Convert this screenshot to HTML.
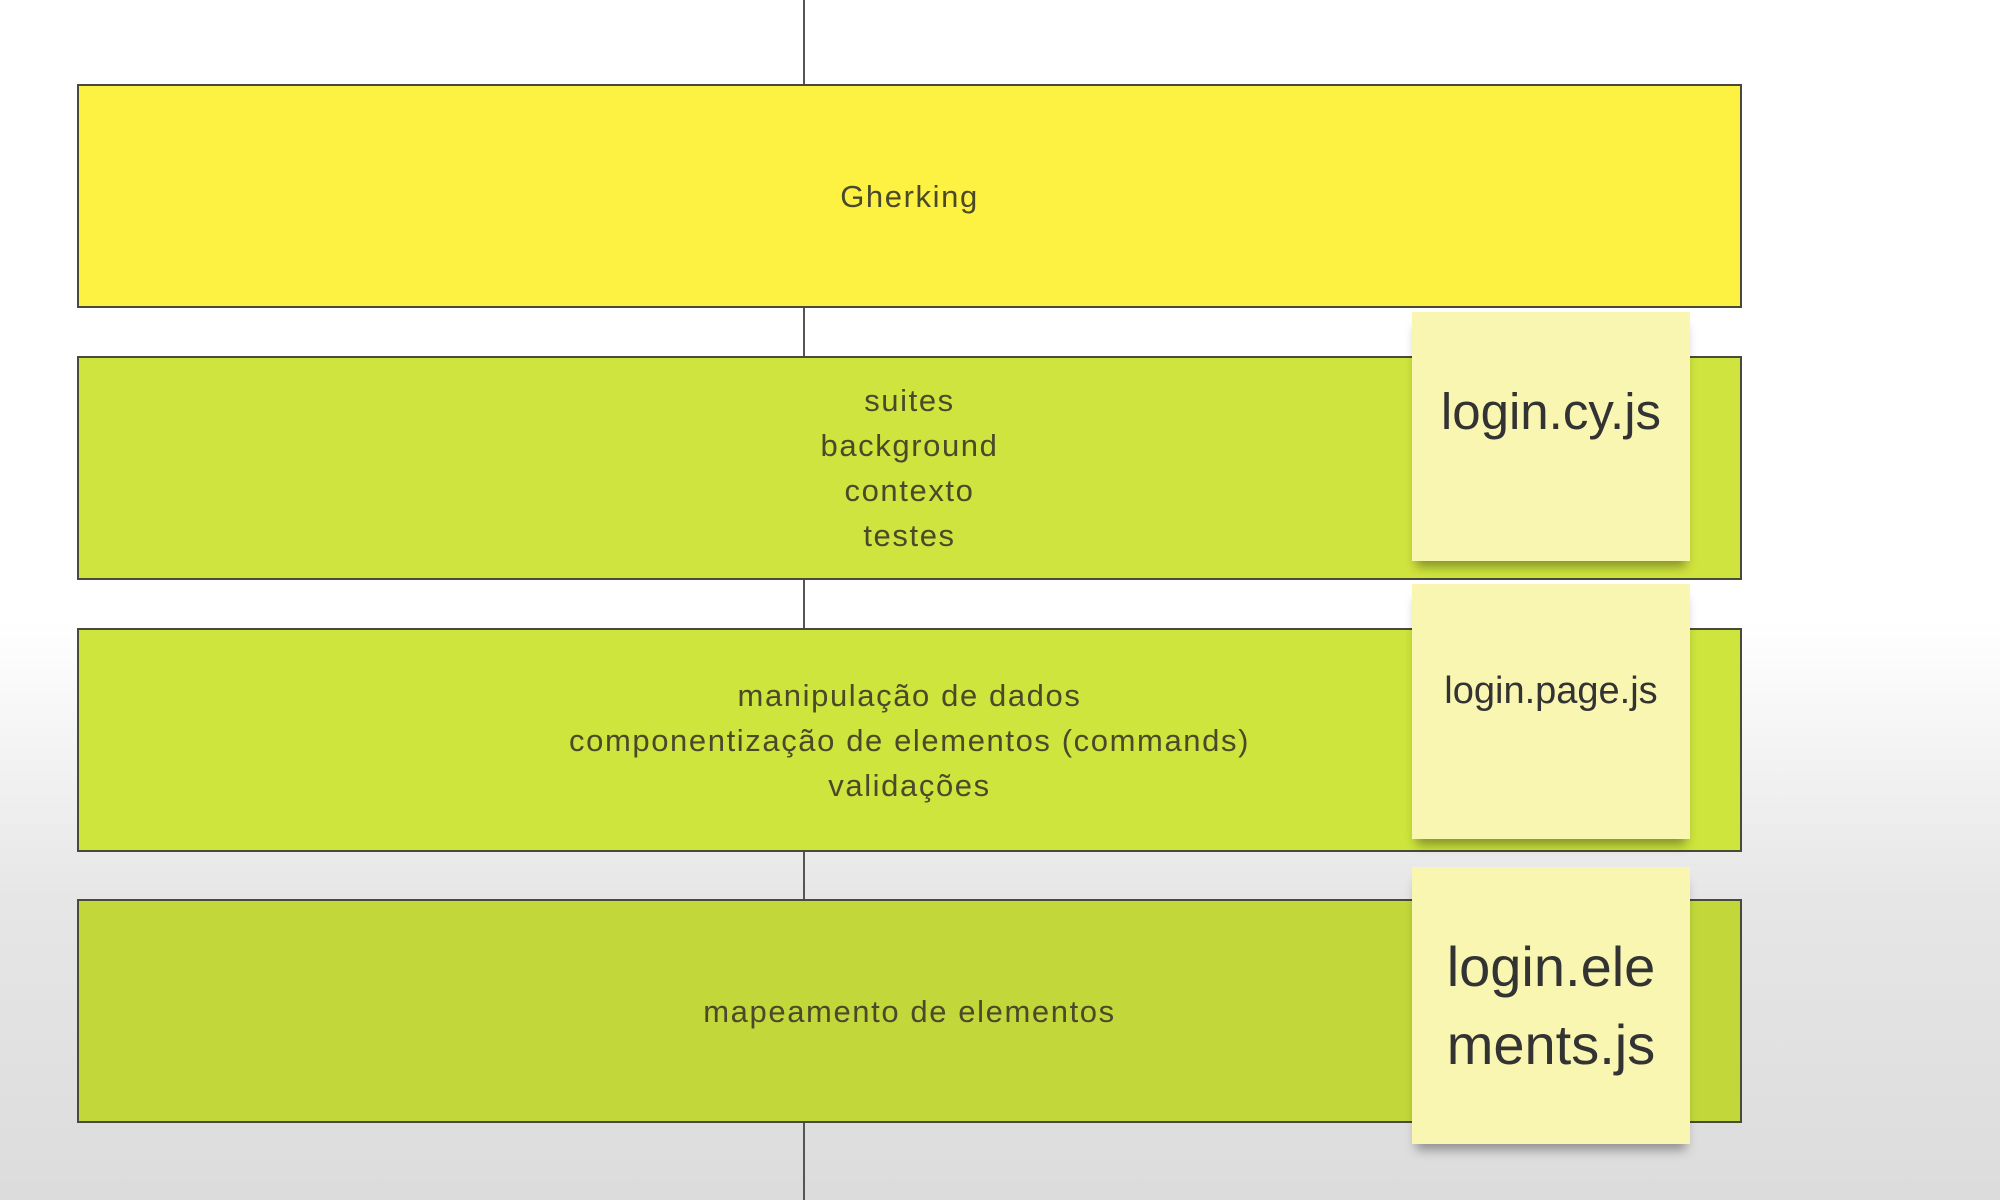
<!DOCTYPE html>
<html><head><meta charset="utf-8"><style>
html,body{margin:0;padding:0}
body{width:2000px;height:1200px;position:relative;overflow:hidden;font-family:"Liberation Sans",sans-serif;
background:linear-gradient(to bottom,#ffffff 0px,#ffffff 620px,#e6e6e6 900px,#dcdcdc 1200px);}
.vl{position:absolute;left:803px;top:0;width:2px;height:1200px;background:#555;}
.box{position:absolute;left:77px;width:1665px;border:2px solid #4a4a3a;display:flex;align-items:center;justify-content:center;text-align:center;color:#4a4a2a;font-size:31px;letter-spacing:1.6px;line-height:45px;box-sizing:border-box;}
.note{position:absolute;left:1412px;width:278px;background:#f8f6b0;color:#333;display:flex;align-items:center;justify-content:center;text-align:center;box-shadow:0 10px 10px -4px rgba(0,0,0,0.35);}
</style></head><body>
<div class="vl"></div>
<div class="box" style="top:84px;height:224px;background:#fdf142;">Gherking</div>
<div class="box" style="top:356px;height:224px;background:#cfe43e;">suites<br>background<br>contexto<br>testes</div>
<div class="box" style="top:628px;height:224px;background:#cde53c;">manipulação de dados<br>componentização de elementos (commands)<br>validações</div>
<div class="box" style="top:899px;height:224px;background:#c2d83a;">mapeamento de elementos</div>
<div class="note" style="top:312px;height:249px;font-size:51px;align-items:flex-start;padding-top:70px;box-sizing:border-box;">login.cy.js</div>
<div class="note" style="top:584px;height:255px;font-size:38px;align-items:flex-start;padding-top:86px;box-sizing:border-box;">login.page.js</div>
<div class="note" style="top:867px;height:277px;font-size:56px;line-height:78px;">login.ele<br>ments.js</div>
</body></html>
